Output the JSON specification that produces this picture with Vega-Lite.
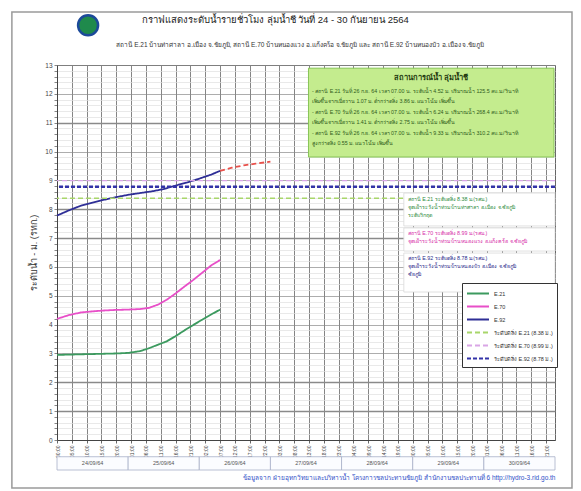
{
  "$schema": "https://vega.github.io/schema/vega-lite/v6.json",
  "width": 498,
  "height": 375,
  "autosize": "none",
  "padding": {"left": 57, "top": 65, "right": 26, "bottom": 51},
  "background": "white",
  "config": {"view": {"stroke": "#666", "strokeWidth": 1}, "axisX": {"tickCount": {"interval": "hour", "step": 5}, "gridColor": "#7a7a7a", "gridWidth": 0.9}},
  "datasets": {
    "obs": [
      {"s": "E.21", "t": "2021-09-24T00:00:00", "v": 2.95},
      {"s": "E.21", "t": "2021-09-24T04:00:00", "v": 2.96},
      {"s": "E.21", "t": "2021-09-24T08:00:00", "v": 2.97},
      {"s": "E.21", "t": "2021-09-24T12:00:00", "v": 2.98},
      {"s": "E.21", "t": "2021-09-24T16:00:00", "v": 2.99},
      {"s": "E.21", "t": "2021-09-24T20:00:00", "v": 3.0},
      {"s": "E.21", "t": "2021-09-25T00:00:00", "v": 3.02},
      {"s": "E.21", "t": "2021-09-25T04:00:00", "v": 3.08},
      {"s": "E.21", "t": "2021-09-25T07:00:00", "v": 3.18},
      {"s": "E.21", "t": "2021-09-25T10:00:00", "v": 3.3},
      {"s": "E.21", "t": "2021-09-25T13:00:00", "v": 3.42},
      {"s": "E.21", "t": "2021-09-25T16:00:00", "v": 3.6},
      {"s": "E.21", "t": "2021-09-25T19:00:00", "v": 3.8},
      {"s": "E.21", "t": "2021-09-25T22:00:00", "v": 3.99},
      {"s": "E.21", "t": "2021-09-26T01:00:00", "v": 4.17},
      {"s": "E.21", "t": "2021-09-26T04:00:00", "v": 4.35},
      {"s": "E.21", "t": "2021-09-26T07:00:00", "v": 4.52},
      {"s": "E.70", "t": "2021-09-24T00:00:00", "v": 4.2},
      {"s": "E.70", "t": "2021-09-24T04:00:00", "v": 4.33},
      {"s": "E.70", "t": "2021-09-24T08:00:00", "v": 4.42},
      {"s": "E.70", "t": "2021-09-24T12:00:00", "v": 4.46},
      {"s": "E.70", "t": "2021-09-24T16:00:00", "v": 4.49},
      {"s": "E.70", "t": "2021-09-24T20:00:00", "v": 4.51},
      {"s": "E.70", "t": "2021-09-25T00:00:00", "v": 4.52},
      {"s": "E.70", "t": "2021-09-25T04:00:00", "v": 4.54},
      {"s": "E.70", "t": "2021-09-25T07:00:00", "v": 4.58},
      {"s": "E.70", "t": "2021-09-25T10:00:00", "v": 4.69},
      {"s": "E.70", "t": "2021-09-25T13:00:00", "v": 4.86},
      {"s": "E.70", "t": "2021-09-25T16:00:00", "v": 5.08},
      {"s": "E.70", "t": "2021-09-25T19:00:00", "v": 5.32},
      {"s": "E.70", "t": "2021-09-25T22:00:00", "v": 5.55},
      {"s": "E.70", "t": "2021-09-26T01:00:00", "v": 5.8},
      {"s": "E.70", "t": "2021-09-26T04:00:00", "v": 6.05},
      {"s": "E.70", "t": "2021-09-26T07:00:00", "v": 6.24},
      {"s": "E.92", "t": "2021-09-24T00:00:00", "v": 7.78},
      {"s": "E.92", "t": "2021-09-24T04:00:00", "v": 7.96},
      {"s": "E.92", "t": "2021-09-24T08:00:00", "v": 8.12},
      {"s": "E.92", "t": "2021-09-24T12:00:00", "v": 8.23},
      {"s": "E.92", "t": "2021-09-24T16:00:00", "v": 8.33},
      {"s": "E.92", "t": "2021-09-24T20:00:00", "v": 8.42},
      {"s": "E.92", "t": "2021-09-25T00:00:00", "v": 8.5},
      {"s": "E.92", "t": "2021-09-25T04:00:00", "v": 8.56},
      {"s": "E.92", "t": "2021-09-25T08:00:00", "v": 8.62},
      {"s": "E.92", "t": "2021-09-25T12:00:00", "v": 8.7},
      {"s": "E.92", "t": "2021-09-25T16:00:00", "v": 8.82},
      {"s": "E.92", "t": "2021-09-25T20:00:00", "v": 8.93},
      {"s": "E.92", "t": "2021-09-26T00:00:00", "v": 9.06},
      {"s": "E.92", "t": "2021-09-26T04:00:00", "v": 9.2},
      {"s": "E.92", "t": "2021-09-26T07:00:00", "v": 9.33}
    ],
    "forecast": [
      {"t": "2021-09-26T07:00:00", "v": 9.33},
      {"t": "2021-09-26T11:00:00", "v": 9.44},
      {"t": "2021-09-26T15:00:00", "v": 9.52},
      {"t": "2021-09-26T19:00:00", "v": 9.58},
      {"t": "2021-09-27T00:00:00", "v": 9.65}
    ],
    "banks": [
      {"s": "ระดับตลิ่ง E.21 (8.38 ม.)", "level": 8.38},
      {"s": "ระดับตลิ่ง E.70 (8.99 ม.)", "level": 8.99},
      {"s": "ระดับตลิ่ง E.92 (8.78 ม.)", "level": 8.78}
    ],
    "days": [
      {"d": "2021-09-24T00:00:00", "e": "2021-09-25T00:00:00", "m": "2021-09-24T12:00:00", "lab": "24/09/64"},
      {"d": "2021-09-25T00:00:00", "e": "2021-09-26T00:00:00", "m": "2021-09-25T12:00:00", "lab": "25/09/64"},
      {"d": "2021-09-26T00:00:00", "e": "2021-09-27T00:00:00", "m": "2021-09-26T12:00:00", "lab": "26/09/64"},
      {"d": "2021-09-27T00:00:00", "e": "2021-09-28T00:00:00", "m": "2021-09-27T12:00:00", "lab": "27/09/64"},
      {"d": "2021-09-28T00:00:00", "e": "2021-09-29T00:00:00", "m": "2021-09-28T12:00:00", "lab": "28/09/64"},
      {"d": "2021-09-29T00:00:00", "e": "2021-09-30T00:00:00", "m": "2021-09-29T12:00:00", "lab": "29/09/64"},
      {"d": "2021-09-30T00:00:00", "e": "2021-10-01T00:00:00", "m": "2021-09-30T12:00:00", "lab": "30/09/64"}
    ]
  },
  "layer": [
    {
      "data": {"name": "obs"},
      "mark": {"type": "line", "strokeWidth": 1.8},
      "encoding": {
        "x": {
          "field": "t", "type": "temporal",
          "scale": {"domain": [{"year": 2021, "month": 9, "date": 24}, {"year": 2021, "month": 10, "date": 1}], "nice": false},
          "axis": {
            "format": "%H:%M",
            "tickCount": 1000,
            "labelOverlap": false,
            "values": [
              {"year": 2021, "month": 9, "date": 24, "hours": 0}, {"year": 2021, "month": 9, "date": 24, "hours": 5}, {"year": 2021, "month": 9, "date": 24, "hours": 10}, {"year": 2021, "month": 9, "date": 24, "hours": 15}, {"year": 2021, "month": 9, "date": 24, "hours": 20},
              {"year": 2021, "month": 9, "date": 25, "hours": 1}, {"year": 2021, "month": 9, "date": 25, "hours": 6}, {"year": 2021, "month": 9, "date": 25, "hours": 11}, {"year": 2021, "month": 9, "date": 25, "hours": 16}, {"year": 2021, "month": 9, "date": 25, "hours": 21},
              {"year": 2021, "month": 9, "date": 26, "hours": 2}, {"year": 2021, "month": 9, "date": 26, "hours": 7}, {"year": 2021, "month": 9, "date": 26, "hours": 12}, {"year": 2021, "month": 9, "date": 26, "hours": 17}, {"year": 2021, "month": 9, "date": 26, "hours": 22},
              {"year": 2021, "month": 9, "date": 27, "hours": 3}, {"year": 2021, "month": 9, "date": 27, "hours": 8}, {"year": 2021, "month": 9, "date": 27, "hours": 13}, {"year": 2021, "month": 9, "date": 27, "hours": 18}, {"year": 2021, "month": 9, "date": 27, "hours": 23},
              {"year": 2021, "month": 9, "date": 28, "hours": 4}, {"year": 2021, "month": 9, "date": 28, "hours": 9}, {"year": 2021, "month": 9, "date": 28, "hours": 14}, {"year": 2021, "month": 9, "date": 28, "hours": 19},
              {"year": 2021, "month": 9, "date": 29, "hours": 0}, {"year": 2021, "month": 9, "date": 29, "hours": 5}, {"year": 2021, "month": 9, "date": 29, "hours": 10}, {"year": 2021, "month": 9, "date": 29, "hours": 15}, {"year": 2021, "month": 9, "date": 29, "hours": 20},
              {"year": 2021, "month": 9, "date": 30, "hours": 1}, {"year": 2021, "month": 9, "date": 30, "hours": 6}, {"year": 2021, "month": 9, "date": 30, "hours": 11}, {"year": 2021, "month": 9, "date": 30, "hours": 16}, {"year": 2021, "month": 9, "date": 30, "hours": 21}
            ],
            "labelAngle": -90,
            "labelFontSize": 5,
            "labelColor": "#444",
            "labelPadding": 2,
            "grid": true,
            "gridColor": "#777777",
            "gridWidth": 0.9,
            "tickSize": 3,
            "tickColor": "#666",
            "domainColor": "#444",
            "title": "ข้อมูลจาก ฝ่ายอุทกวิทยาและบริหารน้ำ โครงการชลประทานชัยภูมิ สำนักงานชลประทานที่ 6      http://hydro-3.rid.go.th",
            "titleAnchor": "end",
            "titleColor": "#3050c8",
            "titleFontSize": 6.5,
            "titleFontWeight": "normal",
            "titlePadding": 17
          }
        },
        "y": {
          "field": "v", "type": "quantitative",
          "scale": {"domain": [0, 13], "nice": false},
          "axis": {
            "values": [0,0.2,0.4,0.6,0.8,1,1.2,1.4,1.6,1.8,2,2.2,2.4,2.6,2.8,3,3.2,3.4,3.6,3.8,4,4.2,4.4,4.6,4.8,5,5.2,5.4,5.6,5.8,6,6.2,6.4,6.6,6.8,7,7.2,7.4,7.6,7.8,8,8.2,8.4,8.6,8.8,9,9.2,9.4,9.6,9.8,10,10.2,10.4,10.6,10.8,11,11.2,11.4,11.6,11.8,12,12.2,12.4,12.6,12.8,13],
            "tickCount": 1000,
            "labelOverlap": false,
            "labelExpr": "datum.value % 1 === 0 ? format(datum.value, 'd') : ''",
            "title": "ระดับน้ำ - ม. (รทก.)",
            "titleFontSize": 9,
            "titleFontWeight": "normal",
            "titleColor": "#333",
            "titlePadding": 6,
            "labelFontSize": 6.5,
            "labelColor": "#444",
            "tickSize": 3,
            "tickColor": "#888",
            "domainColor": "#444",
            "gridColor": {"condition": {"test": "datum.value % 1 === 0", "value": "#8a8a8a"}, "value": "#e0e0e0"},
            "gridWidth": {"condition": {"test": "datum.value === 1 || datum.value === 2 || datum.value === 7 || datum.value === 8 || datum.value === 11", "value": 1.6}, "value": 0.7}
          }
        },
        "color": {
          "field": "s", "type": "nominal",
          "scale": {"domain": ["E.21", "E.70", "E.92", "ระดับตลิ่ง E.21 (8.38 ม.)", "ระดับตลิ่ง E.70 (8.99 ม.)", "ระดับตลิ่ง E.92 (8.78 ม.)"], "range": ["#3c9a5f", "#e84fc8", "#2e2e96", "#a8d66a", "#d9a6e6", "#3333a8"]},
          "legend": {
            "orient": "none", "legendX": 405, "legendY": 218, "direction": "vertical",
            "title": null, "strokeColor": "#333", "fillColor": "white", "padding": 4,
            "labelFontSize": 5.5, "labelColor": "#333", "labelOffset": 15,
            "symbolType": "M-1,0H3", "symbolSize": 121, "symbolStrokeWidth": 1.8, "rowPadding": 2
          }
        },
        "strokeDash": {
          "field": "s", "type": "nominal",
          "scale": {"domain": ["E.21", "E.70", "E.92", "ระดับตลิ่ง E.21 (8.38 ม.)", "ระดับตลิ่ง E.70 (8.99 ม.)", "ระดับตลิ่ง E.92 (8.78 ม.)"], "range": [[1, 0], [1, 0], [1, 0], [5, 3], [5, 3], [4, 2]]}
        }
      }
    },
    {
      "data": {"name": "banks"},
      "mark": {"type": "rule"},
      "encoding": {
        "y": {"field": "level", "type": "quantitative"},
        "color": {"field": "s", "type": "nominal"},
        "strokeDash": {"field": "s", "type": "nominal"},
        "strokeWidth": {"condition": {"test": "datum.level > 8.7 && datum.level < 8.8", "value": 2.6}, "value": 1.3}
      }
    },
    {
      "data": {"name": "forecast"},
      "mark": {"type": "line", "color": "#e8504a", "strokeDash": [5, 3], "strokeWidth": 1.8},
      "encoding": {
        "x": {"field": "t", "type": "temporal"},
        "y": {"field": "v", "type": "quantitative"}
      }
    },
    {
      "data": {"values": [{}]},
      "mark": {"type": "text", "align": "center", "baseline": "middle", "fontSize": 9.5, "color": "#222"},
      "encoding": {
        "x": {"datum": {"year": 2021, "month": 9, "date": 27, "hours": 1, "minutes": 40}, "type": "temporal"},
        "y": {"datum": 14.56, "type": "quantitative"},
        "text": {"value": "กราฟแสดงระดับน้ำรายชั่วโมง ลุ่มน้ำชี วันที่ 24 - 30 กันยายน 2564"}
      }
    },
    {
      "data": {"values": [{}]},
      "mark": {"type": "text", "align": "center", "baseline": "middle", "fontSize": 6.5, "color": "#333"},
      "encoding": {
        "x": {"datum": {"year": 2021, "month": 9, "date": 27, "hours": 10, "minutes": 5}, "type": "temporal"},
        "y": {"datum": 13.69, "type": "quantitative"},
        "text": {"value": "สถานี E.21 บ้านท่าศาลา อ.เมือง จ.ชัยภูมิ, สถานี E.70 บ้านหนองแวง อ.แก้งคร้อ จ.ชัยภูมิ และ สถานี E.92 บ้านหนองบัว อ.เมือง จ.ชัยภูมิ"}
      }
    },
    {
      "data": {"values": [{}]},
      "mark": {"type": "rect", "fill": "#c4ec8e", "stroke": "#86c456", "strokeWidth": 1},
      "encoding": {
        "x": {"datum": {"year": 2021, "month": 9, "date": 27, "hours": 12, "minutes": 50}, "type": "temporal"},
        "x2": {"datum": {"year": 2021, "month": 9, "date": 30, "hours": 23, "minutes": 40}},
        "y": {"datum": 12.89, "type": "quantitative"},
        "y2": {"datum": 9.81}
      }
    },
    {
      "data": {"values": [{}]},
      "mark": {"type": "text", "align": "center", "baseline": "middle", "fontSize": 7.5, "fontWeight": "bold", "color": "#1f3a10"},
      "encoding": {
        "x": {"datum": {"year": 2021, "month": 9, "date": 29, "hours": 6, "minutes": 5}, "type": "temporal"},
        "y": {"datum": 12.55, "type": "quantitative"},
        "text": {"value": "สถานการณ์น้ำ ลุ่มน้ำชี"}
      }
    },
    {
      "data": {"values": [{}]},
      "mark": {"type": "text", "align": "left", "baseline": "top", "fontSize": 5.3, "lineHeight": 10.5, "color": "#2d5a1a"},
      "encoding": {
        "x": {"datum": {"year": 2021, "month": 9, "date": 27, "hours": 14, "minutes": 0}, "type": "temporal"},
        "y": {"datum": 12.17, "type": "quantitative"},
        "text": {"value": [
          "- สถานี E.21 วันที่ 26 ก.ย. 64 เวลา 07.00 น. ระดับน้ำ 4.52 ม. ปริมาณน้ำ 125.5 ลบ.ม./วินาที",
          "  เพิ่มขึ้นจากเมื่อวาน 1.07 ม. ต่ำกว่าตลิ่ง 3.86 ม. แนวโน้ม เพิ่มขึ้น",
          "- สถานี E.70 วันที่ 26 ก.ย. 64 เวลา 07.00 น. ระดับน้ำ 6.24 ม. ปริมาณน้ำ 268.4 ลบ.ม./วินาที",
          "  เพิ่มขึ้นจากเมื่อวาน 1.41 ม. ต่ำกว่าตลิ่ง 2.75 ม. แนวโน้ม เพิ่มขึ้น",
          "- สถานี E.92 วันที่ 26 ก.ย. 64 เวลา 07.00 น. ระดับน้ำ 9.33 ม. ปริมาณน้ำ 310.2 ลบ.ม./วินาที",
          "  สูงกว่าตลิ่ง 0.55 ม. แนวโน้ม เพิ่มขึ้น"
        ]}
      }
    },
    {
      "data": {"values": [{}]},
      "mark": {"type": "rect", "fill": "white", "stroke": "#d8d8d8", "strokeWidth": 0.8},
      "encoding": {
        "x": {"datum": {"year": 2021, "month": 9, "date": 28, "hours": 21}, "type": "temporal"},
        "x2": {"datum": {"year": 2021, "month": 10, "date": 1}},
        "y": {"datum": 8.56, "type": "quantitative"},
        "y2": {"datum": 7.42}
      }
    },
    {
      "data": {"values": [{}]},
      "mark": {"type": "rect", "fill": "white", "stroke": "#d8d8d8", "strokeWidth": 0.8},
      "encoding": {
        "x": {"datum": {"year": 2021, "month": 9, "date": 28, "hours": 21}, "type": "temporal"},
        "x2": {"datum": {"year": 2021, "month": 10, "date": 1}},
        "y": {"datum": 7.35, "type": "quantitative"},
        "y2": {"datum": 6.55}
      }
    },
    {
      "data": {"values": [{}]},
      "mark": {"type": "rect", "fill": "white", "stroke": "#d8d8d8", "strokeWidth": 0.8},
      "encoding": {
        "x": {"datum": {"year": 2021, "month": 9, "date": 28, "hours": 21}, "type": "temporal"},
        "x2": {"datum": {"year": 2021, "month": 10, "date": 1}},
        "y": {"datum": 6.48, "type": "quantitative"},
        "y2": {"datum": 5.13}
      }
    },
    {
      "data": {"values": [{}]},
      "mark": {"type": "text", "align": "left", "baseline": "top", "fontSize": 5.3, "lineHeight": 8, "color": "#2e8b3e"},
      "encoding": {
        "x": {"datum": {"year": 2021, "month": 9, "date": 28, "hours": 22, "minutes": 20}, "type": "temporal"},
        "y": {"datum": 8.42, "type": "quantitative"},
        "text": {"value": ["สถานี E.21 ระดับตลิ่ง 8.38 ม.(รสม.)", "จุดเฝ้าระวังน้ำท่วม บ้านท่าศาลา อ.เมือง จ.ชัยภูมิ", "ระดับวิกฤต"]}
      }
    },
    {
      "data": {"values": [{}]},
      "mark": {"type": "text", "align": "left", "baseline": "top", "fontSize": 5.3, "lineHeight": 8, "color": "#d62ca8"},
      "encoding": {
        "x": {"datum": {"year": 2021, "month": 9, "date": 28, "hours": 22, "minutes": 20}, "type": "temporal"},
        "y": {"datum": 7.24, "type": "quantitative"},
        "text": {"value": ["สถานี E.70 ระดับตลิ่ง 8.99 ม.(รสม.)", "จุดเฝ้าระวังน้ำท่วม บ้านหนองแวง อ.แก้งคร้อ จ.ชัยภูมิ"]}
      }
    },
    {
      "data": {"values": [{}]},
      "mark": {"type": "text", "align": "left", "baseline": "top", "fontSize": 5.3, "lineHeight": 8, "color": "#28288a"},
      "encoding": {
        "x": {"datum": {"year": 2021, "month": 9, "date": 28, "hours": 22, "minutes": 20}, "type": "temporal"},
        "y": {"datum": 6.38, "type": "quantitative"},
        "text": {"value": ["สถานี E.92 ระดับตลิ่ง 8.78 ม.(รสม.)", "จุดเฝ้าระวังน้ำท่วม บ้านหนองบัว อ.เมือง จ.ชัยภูมิ", "ชัยภูมิ"]}
      }
    },
    {
      "data": {"name": "days"},
      "mark": {"type": "rect", "fill": "#fbfcff", "stroke": "#a8b0c8", "strokeWidth": 0.8},
      "encoding": {
        "x": {"field": "d", "type": "temporal"},
        "x2": {"field": "e"},
        "y": {"datum": -0.58, "type": "quantitative"},
        "y2": {"datum": -1.04}
      }
    },
    {
      "data": {"name": "days"},
      "mark": {"type": "text", "align": "center", "baseline": "middle", "fontSize": 5.5, "color": "#555"},
      "encoding": {
        "x": {"field": "m", "type": "temporal"},
        "y": {"datum": -0.81, "type": "quantitative"},
        "text": {"field": "lab"}
      }
    },
    {
      "data": {"values": [{}]},
      "mark": {"type": "rect", "fill": "white", "fillOpacity": 0, "stroke": "#9a9a9a", "strokeWidth": 1.5},
      "encoding": {
        "x": {"datum": {"year": 2021, "month": 9, "date": 23, "hours": 8, "minutes": 47}, "type": "temporal"},
        "x2": {"datum": {"year": 2021, "month": 10, "date": 1, "hours": 5, "minutes": 44}},
        "y": {"datum": 14.835, "type": "quantitative"},
        "y2": {"datum": -1.664}
      }
    },
    {
      "data": {"values": [{}]},
      "mark": {"type": "point", "shape": "circle", "filled": true, "fill": "#1f8a4c", "stroke": "#1c4a9a", "strokeWidth": 2.5, "size": 400, "opacity": 1},
      "encoding": {
        "x": {"datum": {"year": 2021, "month": 9, "date": 24, "hours": 10, "minutes": 29}, "type": "temporal"},
        "y": {"datum": 14.38, "type": "quantitative"}
      }
    }
  ]
}
